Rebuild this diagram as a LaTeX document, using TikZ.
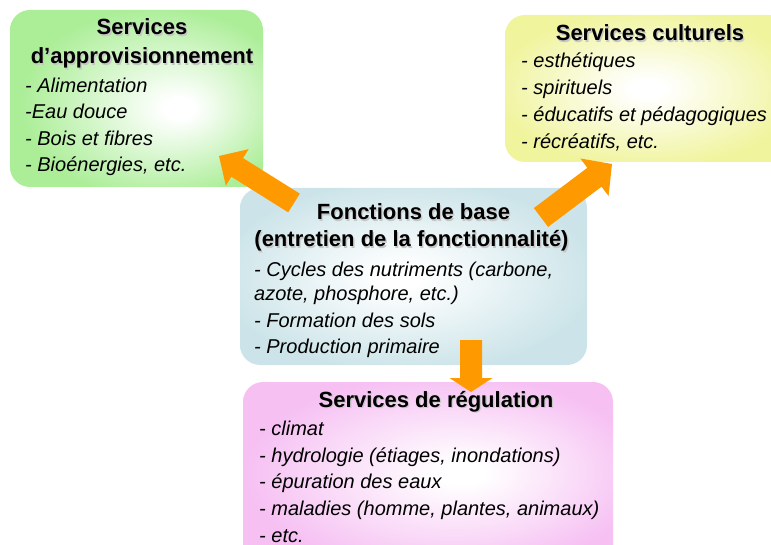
\documentclass[tikz,border=0pt]{standalone}
\usepackage{fontspec}
\setmainfont{Liberation Sans}
\usetikzlibrary{calc}
\definecolor{cG}{RGB}{172,238,152}
\definecolor{cY}{RGB}{240,244,156}
\definecolor{cB}{RGB}{204,228,233}
\definecolor{cP}{RGB}{246,192,243}
\definecolor{cO}{RGB}{255,153,0}
\pgfdeclareradialshading{glowG}{\pgfpoint{9bp}{-3bp}}{color(0bp)=(white); color(3bp)=(white); color(27bp)=(cG); color(50bp)=(cG)}
\pgfdeclareradialshading{glowY}{\pgfpoint{0bp}{0bp}}{color(0bp)=(white); color(3bp)=(white); color(27bp)=(cY); color(50bp)=(cY)}
\pgfdeclareradialshading{glowB}{\pgfpoint{-2bp}{0bp}}{color(0bp)=(white); color(3bp)=(white); color(27bp)=(cB); color(50bp)=(cB)}
\pgfdeclareradialshading{glowP}{\pgfpoint{5bp}{0bp}}{color(0bp)=(white); color(3bp)=(white); color(27bp)=(cP); color(50bp)=(cP)}
\newcommand\shtitle[3]{%
  \node[ttl, text=black!22] (#1s) at ($(#2)+(1.3,1.3)$) {#3};
  \node[ttl] (#1) at (#2) {#3};}
\newcommand\blockarrow[6]{% name, tail, tip, shaft half, head half, head length
  \coordinate (#1b) at ($(#3)!#6!(#2)$);
  \fill[arrowc] ($(#2)!#4!90:(#3)$) -- ($(#1b)!#4!-90:(#2)$) -- ($(#1b)!#5!-90:(#2)$)
    -- (#3) -- ($(#1b)!#5!90:(#2)$) -- ($(#1b)!#4!90:(#2)$) -- ($(#2)!#4!-90:(#3)$) -- cycle;}
\begin{document}
\begin{tikzpicture}[x=1pt,y=-1pt,
  box/.style={rounded corners=20pt, inner sep=0pt, draw=none, shade},
  ttl/.style={font=\fontsize{22}{26}\selectfont\bfseries, anchor=base, inner sep=0pt},
  itm/.style={font=\fontsize{20}{24}\selectfont\itshape, anchor=base west, inner sep=0pt},
  arrowc/.style={fill=cO}]
\useasboundingbox (0,0) rectangle (771,545);
\clip (0,0) rectangle (771,545);
% boxes
\node[box, shading=glowG, minimum width=253pt, minimum height=177pt] (prov) at (136.5,98.5) {};
\node[box, shading=glowY, minimum width=285pt, minimum height=147pt] (cult) at (647.5,88.5) {};
\node[box, shading=glowB, minimum width=347pt, minimum height=177pt] (base) at (413.5,276.5) {};
\node[box, shading=glowP, minimum width=370pt, minimum height=183pt] (regu) at (428,473.5) {};
% texts: approvisionnement
\coordinate (p1) at (142,35);
\coordinate (p2) at (142,64);
\shtitle{provT1}{p1}{Services}
\shtitle{provT2}{p2}{d’approvisionnement}
\node[itm] (provA) at (25,93) {- Alimentation};
\node[itm] (provB) at (25,119) {-Eau douce};
\node[itm] (provC) at (25,146) {- Bois et fibres};
\node[itm] (provD) at (25,172) {- Bioénergies, etc.};
% culturels
\coordinate (c1) at (650,41);
\shtitle{cultT}{c1}{Services culturels}
\node[itm] (cultA) at (521,68) {- esthétiques};
\node[itm] (cultB) at (521,95) {- spirituels};
\node[itm] (cultC) at (521,122) {- éducatifs et pédagogiques};
\node[itm] (cultD) at (521,149) {- récréatifs, etc.};
% base
\coordinate (b1) at (413.5,220);
\coordinate (b2) at (411.5,247);
\shtitle{baseT1}{b1}{Fonctions de base}
\shtitle{baseT2}{b2}{(entretien de la fonctionnalité)}
\node[itm] (baseA) at (254,277) {- Cycles des nutriments (carbone,};
\node[itm] (baseB) at (254,301) {azote, phosphore, etc.)};
\node[itm] (baseC) at (254,327) {- Formation des sols};
\node[itm] (baseD) at (254,353) {- Production primaire};
% regulation
\coordinate (r1) at (436,407);
\shtitle{reguT}{r1}{Services de régulation}
\node[itm] (reguA) at (259,435) {- climat};
\node[itm] (reguB) at (259,462) {- hydrologie (étiages, inondations)};
\node[itm] (reguC) at (259,488) {- épuration des eaux};
\node[itm] (reguD) at (259,515) {- maladies (homme, plantes, animaux)};
\node[itm] (reguE) at (259,542) {- etc.};
% arrows
\coordinate (a1tail) at (294,203);
\coordinate (a1tip) at (219,156);
\coordinate (a2tail) at (541,217.5);
\coordinate (a2tip) at (612,164);
\coordinate (a3tail) at (471,340);
\coordinate (a3tip) at (471,392);
\blockarrow{a1}{a1tail}{a1tip}{11pt}{21.5pt}{21.5pt}
\blockarrow{a2}{a2tail}{a2tip}{11.8pt}{23.5pt}{22pt}
\blockarrow{a3}{a3tail}{a3tip}{11pt}{21.5pt}{14pt}
\end{tikzpicture}
\end{document}
